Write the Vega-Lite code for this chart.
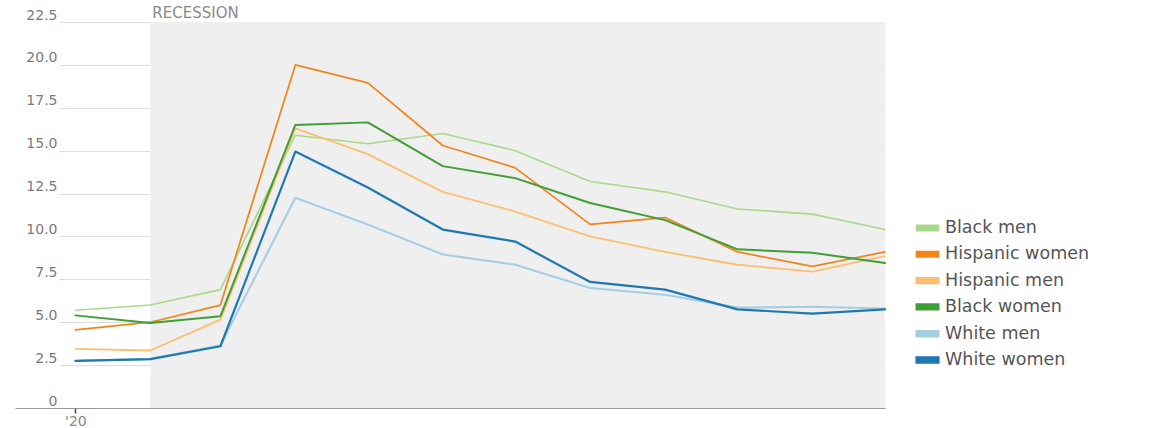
{
  "$schema": "https://vega.github.io/schema/vega-lite/v6.json",
  "autosize": {"type": "none"},
  "padding": {"left": 15, "top": 22, "right": 273, "bottom": 20},
  "width": 870,
  "height": 386,
  "background": "#ffffff",
  "config": {
    "view": {"stroke": null},
    "font": "DejaVu Sans",
    "legend": {
      "orient": "none",
      "legendX": 900,
      "legendY": 194,
      "labelFont": "DejaVu Sans",
      "labelFontSize": 17.5,
      "labelColor": "#555555",
      "labelOffset": 5,
      "symbolType": "M-1,-0.24L1,-0.24L1,0.24L-1,0.24Z",
      "symbolSize": 484,
      "symbolStrokeWidth": 0,
      "rowPadding": 5.3,
      "padding": 0
    }
  },
  "datasets": {
    "rates": [
      {"month": "2020-01-01", "series": "Black men", "rate": 5.7},
      {"month": "2020-02-01", "series": "Black men", "rate": 6.0},
      {"month": "2020-03-01", "series": "Black men", "rate": 6.9},
      {"month": "2020-04-01", "series": "Black men", "rate": 15.9},
      {"month": "2020-05-01", "series": "Black men", "rate": 15.4},
      {"month": "2020-06-01", "series": "Black men", "rate": 16.0},
      {"month": "2020-07-01", "series": "Black men", "rate": 15.0},
      {"month": "2020-08-01", "series": "Black men", "rate": 13.2},
      {"month": "2020-09-01", "series": "Black men", "rate": 12.6},
      {"month": "2020-10-01", "series": "Black men", "rate": 11.6},
      {"month": "2020-11-01", "series": "Black men", "rate": 11.3},
      {"month": "2020-12-01", "series": "Black men", "rate": 10.4},
      {"month": "2020-01-01", "series": "Hispanic women", "rate": 4.55},
      {"month": "2020-02-01", "series": "Hispanic women", "rate": 5.0},
      {"month": "2020-03-01", "series": "Hispanic women", "rate": 6.0},
      {"month": "2020-04-01", "series": "Hispanic women", "rate": 20.0},
      {"month": "2020-05-01", "series": "Hispanic women", "rate": 18.95},
      {"month": "2020-06-01", "series": "Hispanic women", "rate": 15.3},
      {"month": "2020-07-01", "series": "Hispanic women", "rate": 14.0},
      {"month": "2020-08-01", "series": "Hispanic women", "rate": 10.7},
      {"month": "2020-09-01", "series": "Hispanic women", "rate": 11.1},
      {"month": "2020-10-01", "series": "Hispanic women", "rate": 9.1},
      {"month": "2020-11-01", "series": "Hispanic women", "rate": 8.25},
      {"month": "2020-12-01", "series": "Hispanic women", "rate": 9.1},
      {"month": "2020-01-01", "series": "Hispanic men", "rate": 3.45},
      {"month": "2020-02-01", "series": "Hispanic men", "rate": 3.35},
      {"month": "2020-03-01", "series": "Hispanic men", "rate": 5.15},
      {"month": "2020-04-01", "series": "Hispanic men", "rate": 16.3},
      {"month": "2020-05-01", "series": "Hispanic men", "rate": 14.8},
      {"month": "2020-06-01", "series": "Hispanic men", "rate": 12.6},
      {"month": "2020-07-01", "series": "Hispanic men", "rate": 11.45},
      {"month": "2020-08-01", "series": "Hispanic men", "rate": 10.0},
      {"month": "2020-09-01", "series": "Hispanic men", "rate": 9.1},
      {"month": "2020-10-01", "series": "Hispanic men", "rate": 8.35},
      {"month": "2020-11-01", "series": "Hispanic men", "rate": 7.95},
      {"month": "2020-12-01", "series": "Hispanic men", "rate": 8.85},
      {"month": "2020-01-01", "series": "Black women", "rate": 5.4},
      {"month": "2020-02-01", "series": "Black women", "rate": 4.95},
      {"month": "2020-03-01", "series": "Black women", "rate": 5.35},
      {"month": "2020-04-01", "series": "Black women", "rate": 16.5},
      {"month": "2020-05-01", "series": "Black women", "rate": 16.65},
      {"month": "2020-06-01", "series": "Black women", "rate": 14.1},
      {"month": "2020-07-01", "series": "Black women", "rate": 13.4},
      {"month": "2020-08-01", "series": "Black women", "rate": 11.95},
      {"month": "2020-09-01", "series": "Black women", "rate": 10.95},
      {"month": "2020-10-01", "series": "Black women", "rate": 9.25},
      {"month": "2020-11-01", "series": "Black women", "rate": 9.05},
      {"month": "2020-12-01", "series": "Black women", "rate": 8.45},
      {"month": "2020-01-01", "series": "White men", "rate": 2.75},
      {"month": "2020-02-01", "series": "White men", "rate": 2.85},
      {"month": "2020-03-01", "series": "White men", "rate": 3.65},
      {"month": "2020-04-01", "series": "White men", "rate": 12.25},
      {"month": "2020-05-01", "series": "White men", "rate": 10.7},
      {"month": "2020-06-01", "series": "White men", "rate": 8.95},
      {"month": "2020-07-01", "series": "White men", "rate": 8.35},
      {"month": "2020-08-01", "series": "White men", "rate": 7.0},
      {"month": "2020-09-01", "series": "White men", "rate": 6.6},
      {"month": "2020-10-01", "series": "White men", "rate": 5.85},
      {"month": "2020-11-01", "series": "White men", "rate": 5.9},
      {"month": "2020-12-01", "series": "White men", "rate": 5.8},
      {"month": "2020-01-01", "series": "White women", "rate": 2.75},
      {"month": "2020-02-01", "series": "White women", "rate": 2.85},
      {"month": "2020-03-01", "series": "White women", "rate": 3.6},
      {"month": "2020-04-01", "series": "White women", "rate": 14.95},
      {"month": "2020-05-01", "series": "White women", "rate": 12.85},
      {"month": "2020-06-01", "series": "White women", "rate": 10.4},
      {"month": "2020-07-01", "series": "White women", "rate": 9.7},
      {"month": "2020-08-01", "series": "White women", "rate": 7.35},
      {"month": "2020-09-01", "series": "White women", "rate": 6.9},
      {"month": "2020-10-01", "series": "White women", "rate": 5.75},
      {"month": "2020-11-01", "series": "White women", "rate": 5.5},
      {"month": "2020-12-01", "series": "White women", "rate": 5.75}
    ],
    "recession": [
      {"start": "2020-02-01", "end": "2020-12-01", "label": "RECESSION"}
    ]
  },
  "layer": [
    {
      "data": {"name": "recession"},
      "mark": {"type": "rect", "color": "#efefef"},
      "encoding": {
        "x": {
          "field": "start",
          "type": "temporal",
          "scale": {"type": "utc", "domain": [{"year": 2019, "month": 12, "date": 7, "utc": true}, {"year": 2020, "month": 12, "date": 1, "utc": true}]},
          "axis": {
            "title": null,
            "values": [{"year": 2020, "month": 1, "date": 1, "utc": true}],
            "labelExpr": "\"'\" + utcFormat(datum.value, '%y')",
            "domainColor": "#999999",
            "domainWidth": 1,
            "tickColor": "#444444",
            "tickSize": 5,
            "tickWidth": 1.5,
            "labelColor": "#888888",
            "labelFont": "DejaVu Sans",
            "labelFontSize": 14,
            "labelPadding": 1,
            "labelFlush": false,
            "grid": false
          }
        },
        "x2": {"field": "end"}
      }
    },
    {
      "data": {"name": "recession"},
      "mark": {"type": "text", "align": "left", "baseline": "bottom", "dx": 2, "dy": -1, "color": "#8a8a8a", "fontSize": 15, "font": "DejaVu Sans"},
      "encoding": {
        "x": {"field": "start", "type": "temporal"},
        "y": {"datum": 22.5, "type": "quantitative"},
        "text": {"field": "label"}
      }
    },
    {
      "data": {"name": "rates"},
      "mark": {"type": "line", "strokeJoin": "round", "strokeCap": "round"},
      "encoding": {
        "x": {"field": "month", "type": "temporal"},
        "y": {
          "field": "rate",
          "type": "quantitative",
          "scale": {"domain": [0, 22.5], "nice": false, "zero": true},
          "axis": {
            "title": null,
            "values": [0, 2.5, 5, 7.5, 10, 12.5, 15, 17.5, 20, 22.5],
            "labelExpr": "datum.value == 0 ? '0' : format(datum.value, '.1f')",
            "ticks": false,
            "domain": false,
            "labelPadding": -42,
            "labelAlign": "right",
            "labelBaseline": "bottom",
            "labelColor": "#7a7a7a",
            "labelFont": "DejaVu Sans",
            "labelFontSize": 14,
            "labelOverlap": false,
            "grid": true,
            "gridColor": "#dddddd",
            "gridWidth": 1,
            "gridDash": [0, 44, 3000]
          }
        },
        "color": {
          "field": "series",
          "type": "nominal",
          "scale": {
            "domain": ["Black men", "Hispanic women", "Hispanic men", "Black women", "White men", "White women"],
            "range": ["#a9d98a", "#f0861a", "#fdbf6f", "#3f9e36", "#a6cee3", "#1f78b4"]
          },
          "legend": {
            "title": null,
            "encode": {"symbols": {"update": {"fill": {"scale": "color", "field": "value"}, "stroke": {"value": "transparent"}}}}
          }
        },
        "strokeWidth": {
          "field": "series",
          "type": "nominal",
          "scale": {
            "domain": ["Black men", "Hispanic women", "Hispanic men", "Black women", "White men", "White women"],
            "range": [1.6, 2.2, 1.6, 2.2, 1.6, 2.2]
          },
          "legend": null
        },
        "order": {"field": "month", "type": "temporal"}
      }
    }
  ]
}
